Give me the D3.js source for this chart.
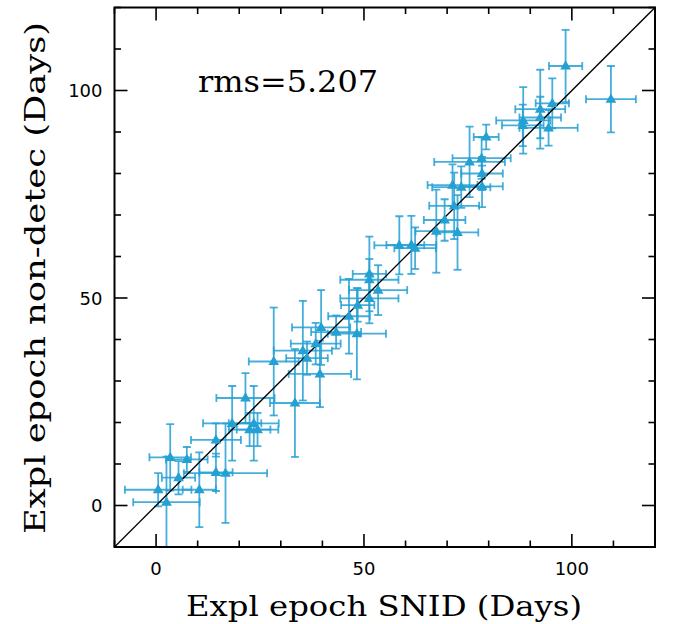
<!DOCTYPE html>
<html>
<head>
<meta charset="utf-8">
<script src="https://cdn.jsdelivr.net/npm/d3@7"></script>
<style>
  body { margin: 0; background: #fff; }
</style>
</head>
<body>
<div id="chart"></div>
<script>
// explosion epoch: SNID estimate (x) vs non-detection estimate (y), days
const snid = [0.5, 2.5, 3.4, 5.4, 7.4, 10.4, 14.4, 16.7, 14.4, 18.3, 21.5, 23.5, 22.5, 24.4,
  28.3, 33.4, 35.3, 36.3, 39.4, 39.7, 38.4, 43.3, 46.4, 48.3, 48.5, 51.3, 51.3, 51.3, 53.4,
  58.5, 61.4, 62.3, 67.4, 69.4, 72.5, 71.7, 71.3, 73.4, 75.4, 78.3, 78.4, 78.4, 79.4,
  88.3, 88.2, 92.4, 92.4, 94.4, 95.3, 98.5, 109.4];
const nondet = [3.8, 0.8, 11.6, 6.7, 11.1, 3.8, 8.0, 7.8, 15.8, 19.8, 25.9, 19.8, 18.3, 18.3,
  34.7, 24.7, 37.3, 35.5, 31.7, 42.9, 39.0, 41.8, 45.6, 41.4, 48.3, 49.9, 55.8, 54.4, 51.9,
  62.7, 62.8, 62.0, 66.1, 68.8, 65.8, 72.2, 77.2, 76.7, 82.8, 83.7, 80.0, 76.9, 88.8,
  92.8, 91.6, 95.5, 93.5, 91.0, 96.9, 105.9, 97.9];
const snidErr = [8, 8, 5, 4, 5, 4, 4, 10, 6, 7, 7, 6, 5, 5,
  6, 6, 7, 5, 7.5, 7, 6, 6, 5, 7, 4, 7, 4, 7, 7,
  6, 6, 5, 5, 5, 5, 6, 6, 7, 8.5, 7, 5, 5, 3,
  6.5, 5, 6, 5, 7, 4, 4, 6];
const nondetErr = [4, 11, 8, 4, 3, 9, 4.5, 12, 4, 9, 6, 9, 4, 4,
  13, 13, 12, 4, 8, 9, 5, 4, 9, 11, 4, 6, 9, 5, 6,
  7, 7, 5, 10, 5, 9, 8, 5, 5, 8.5, 5, 4, 5, 3,
  8, 5, 9.5, 5, 4.3, 6, 8.7, 8];
const xDomain = [-10, 120];
const yDomain = [-10, 120];
const majorTicks = [0, 50, 100];
const minorTicks = d3.range(-10, 121, 10).filter(v => !majorTicks.includes(v));
const rmsLabel = "rms=5.207";

const points = snid.map((x, i) => ({ x, y: nondet[i], ex: snidErr[i], ey: nondetErr[i] }));

const width = 673, height = 624;
const margin = { top: 7.5, right: 18, bottom: 77, left: 114.5 };
const blue = "#24a0d3";

const svg = d3.select("#chart").append("svg")
  .attr("width", width)
  .attr("height", height);

const x = d3.scaleLinear().domain(xDomain).range([margin.left, width - margin.right]);
const y = d3.scaleLinear().domain(yDomain).range([height - margin.bottom, margin.top]);

svg.append("clipPath").attr("id", "plotclip")
  .append("rect")
  .attr("x", x(xDomain[0])).attr("y", y(yDomain[1]))
  .attr("width", x(xDomain[1]) - x(xDomain[0]))
  .attr("height", y(yDomain[0]) - y(yDomain[1]));

const plot = svg.append("g").attr("clip-path", "url(#plotclip)");

// error bars
const cap = 4;
const eb = plot.append("g")
  .attr("stroke", blue)
  .attr("stroke-width", 1.8)
  .attr("stroke-opacity", 0.85)
  .attr("fill", "none");

points.forEach(d => {
  const g = eb.append("g");
  g.append("line").attr("x1", x(d.x - d.ex)).attr("x2", x(d.x + d.ex)).attr("y1", y(d.y)).attr("y2", y(d.y));
  g.append("line").attr("x1", x(d.x)).attr("x2", x(d.x)).attr("y1", y(d.y - d.ey)).attr("y2", y(d.y + d.ey));
  [d.x - d.ex, d.x + d.ex].forEach(v =>
    g.append("line").attr("x1", x(v)).attr("x2", x(v)).attr("y1", y(d.y) - cap).attr("y2", y(d.y) + cap));
  [d.y - d.ey, d.y + d.ey].forEach(v =>
    g.append("line").attr("x1", x(d.x) - cap).attr("x2", x(d.x) + cap).attr("y1", y(v)).attr("y2", y(v)));
});

// one-to-one line
plot.append("line")
  .attr("x1", x(-10)).attr("y1", y(-10))
  .attr("x2", x(120)).attr("y2", y(120))
  .attr("stroke", "#000")
  .attr("stroke-width", 1.3);

// triangles
plot.append("g")
  .selectAll("path")
  .data(points)
  .join("path")
  .attr("d", d3.symbol(d3.symbolTriangle, 50))
  .attr("transform", d => `translate(${x(d.x)},${y(d.y) + 0.5})`)
  .attr("fill", blue);

// frame
svg.append("rect")
  .attr("x", x(xDomain[0])).attr("y", y(yDomain[1]))
  .attr("width", x(xDomain[1]) - x(xDomain[0]))
  .attr("height", y(yDomain[0]) - y(yDomain[1]))
  .attr("fill", "none")
  .attr("stroke", "#000")
  .attr("stroke-width", 2);

// ticks on all four sides
const tk = svg.append("g").attr("stroke", "#000").attr("stroke-width", 1.6);
const ticks = majorTicks.map(v => ({ v, len: 13 })).concat(minorTicks.map(v => ({ v, len: 6.5 })));
const x0 = x(xDomain[0]), x1 = x(xDomain[1]), y0 = y(yDomain[0]), y1 = y(yDomain[1]);
ticks.forEach(t => {
  tk.append("line").attr("x1", x(t.v)).attr("x2", x(t.v)).attr("y1", y0).attr("y2", y0 - t.len);
  tk.append("line").attr("x1", x(t.v)).attr("x2", x(t.v)).attr("y1", y1).attr("y2", y1 + t.len);
  tk.append("line").attr("y1", y(t.v)).attr("y2", y(t.v)).attr("x1", x0).attr("x2", x0 + t.len);
  tk.append("line").attr("y1", y(t.v)).attr("y2", y(t.v)).attr("x1", x1).attr("x2", x1 - t.len);
});

// tick labels
const tickFont = "'DejaVu Sans', sans-serif";
svg.append("g").selectAll("text")
  .data(majorTicks)
  .join("text")
  .attr("x", d => x(d))
  .attr("y", y0 + 28)
  .attr("text-anchor", "middle")
  .attr("font-family", tickFont)
  .attr("font-size", 18)
  .text(d => d);

svg.append("g").selectAll("text")
  .data(majorTicks)
  .join("text")
  .attr("x", x0 - 12)
  .attr("y", d => y(d) + 6.5)
  .attr("text-anchor", "end")
  .attr("font-family", tickFont)
  .attr("font-size", 18)
  .text(d => d);

// axis titles
const titleFont = "'DejaVu Serif', serif";
svg.append("text")
  .attr("x", 384)
  .attr("y", 616)
  .attr("text-anchor", "middle")
  .attr("font-family", titleFont)
  .attr("font-size", 27)
  .attr("textLength", 396)
  .attr("lengthAdjust", "spacingAndGlyphs")
  .text("Expl epoch SNID (Days)");

svg.append("text")
  .attr("transform", `translate(45,${278}) rotate(-90)`)
  .attr("text-anchor", "middle")
  .attr("font-family", titleFont)
  .attr("font-size", 27)
  .attr("textLength", 512)
  .attr("lengthAdjust", "spacingAndGlyphs")
  .text("Expl epoch non-detec (Days)");

// rms annotation
svg.append("text")
  .attr("x", 198)
  .attr("y", 92)
  .attr("font-family", titleFont)
  .attr("font-size", 29)
  .attr("textLength", 180)
  .attr("lengthAdjust", "spacingAndGlyphs")
  .text(rmsLabel);
</script>
</body>
</html>
